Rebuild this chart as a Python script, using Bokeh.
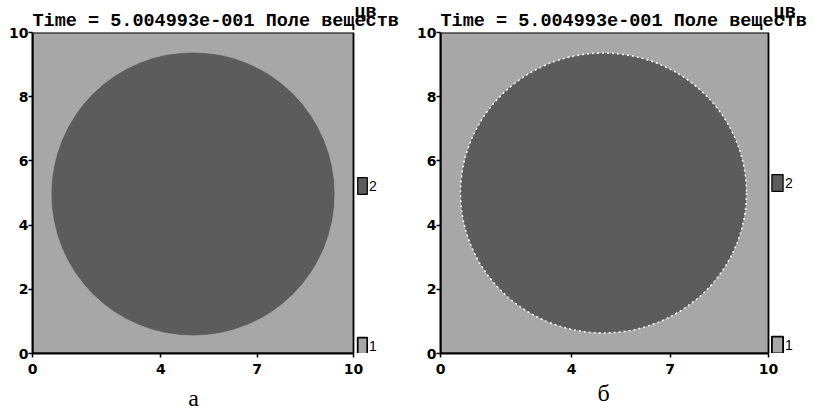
from bokeh.plotting import figure
from bokeh.models import FixedTicker, Legend, LegendItem, Range1d
from bokeh.layouts import row
from bokeh.embed import file_html
from bokeh.resources import INLINE

# ---- data ----
title_text = "Time = 5.004993e-001 Поле веществ"
superscript_text = "цв"
panel_labels = ["а", "б"]
x_ticks = [0, 4, 7, 10]
y_ticks = [0, 2, 4, 6, 8, 10]
domain_x = [0, 10]
domain_y = [0, 10]
disc_cx = [5.0, 4.97]
disc_cy = [4.97, 5.0]
disc_r = [4.42, 4.36]
level_labels = ["1", "2"]
level_colors = ["#a7a7a7", "#5c5c5c"]

# ---- per-panel layout / style (pixels) ----
panels = [
    dict(width=414, height=413, bl=32, bt=32, bb=60, dom_w=321, dom_h=321,
         xlab_standoff=8, xlab_pad=10,
         edge_color="#b4b4b4", edge_dash="solid", edge_width=1.0, edge_alpha=0.5,
         leg_loc=(324, -3), glyph_w=12, glyph_h=21, spacing=139,
         sup_indent=29),
    dict(width=400, height=413, bl=26, bt=30, bb=56, dom_w=328, dom_h=327,
         xlab_standoff=3, xlab_pad=8,
         edge_color="white", edge_dash="2 3", edge_width=1.5, edge_alpha=1.0,
         leg_loc=(330, -2), glyph_w=14, glyph_h=21, spacing=141,
         sup_indent=30),
]


def make_panel(i):
    s = panels[i]
    frame_w = s["width"] - s["bl"]
    frame_h = s["height"] - s["bt"] - s["bb"]
    span_x = domain_x[1] - domain_x[0]
    span_y = domain_y[1] - domain_y[0]
    x_end = domain_x[0] + span_x * frame_w / s["dom_w"]
    y_end = domain_y[0] + span_y * frame_h / s["dom_h"]
    p = figure(width=s["width"], height=s["height"], output_backend="svg",
               toolbar_location=None,
               x_range=Range1d(domain_x[0], x_end),
               y_range=Range1d(domain_y[0], y_end),
               min_border_left=s["bl"], min_border_right=0,
               min_border_top=s["bt"], min_border_bottom=s["bb"])
    p.title.text = "\u00a0" * s["sup_indent"] + superscript_text + "\n" + title_text
    p.title.text_font = "Liberation Mono"
    p.title.text_font_style = "bold"
    p.title.text_font_size = "18.5px"
    p.title.text_line_height = 0.45
    p.title.text_color = "black"
    p.title.align = "left"
    p.title.standoff = 0
    p.title.offset = 0

    p.grid.visible = False
    p.outline_line_color = None
    p.background_fill_color = "white"
    p.border_fill_color = "white"

    for ax, ticks, bnd in ((p.xaxis, x_ticks, domain_x), (p.yaxis, y_ticks, domain_y)):
        ax.ticker = FixedTicker(ticks=ticks)
        ax.bounds = (bnd[0], bnd[1])
        ax.minor_tick_line_color = None
        ax.major_tick_in = 0
        ax.major_tick_out = 4
        ax.major_tick_line_color = "black"
        ax.major_tick_line_width = 1.5
        ax.axis_line_color = "black"
        ax.axis_line_width = 2
        ax.major_label_text_font = "DejaVu Sans"
        ax.major_label_text_font_style = "bold"
        ax.major_label_text_font_size = "14px"
        ax.major_label_text_color = "black"
    p.yaxis.major_label_standoff = 0
    p.xaxis.major_label_standoff = 6
    # trailing no-break spaces keep the label centred under the domain box
    p.xaxis.axis_label = panel_labels[i] + "\u00a0" * s["xlab_pad"]
    p.xaxis.axis_label_text_font = "Liberation Serif"
    p.xaxis.axis_label_text_font_style = "normal"
    p.xaxis.axis_label_text_font_size = "24px"
    p.xaxis.axis_label_text_color = "black"
    p.xaxis.axis_label_standoff = s["xlab_standoff"]

    # level 1: the surrounding medium fills the domain (its edge is the box)
    bg = p.quad(left=[domain_x[0]], right=[domain_x[1]],
                bottom=[domain_y[0]], top=[domain_y[1]],
                fill_color=level_colors[0], line_color="black", line_width=1.8)
    # level 2 swatch proxy (inscribed square of the disc, hidden beneath it)
    cx, cy, r = disc_cx[i], disc_cy[i], disc_r[i]
    proxy = p.quad(left=[cx - 0.6 * r], right=[cx + 0.6 * r],
                   bottom=[cy - 0.6 * r], top=[cy + 0.6 * r],
                   fill_color=level_colors[1], line_color="black", line_width=1.2)
    p.ellipse(x=[cx], y=[cy], width=[2 * r], height=[2 * r],
              fill_color=level_colors[1], line_color=s["edge_color"],
              line_dash=s["edge_dash"], line_width=s["edge_width"],
              line_alpha=s["edge_alpha"])

    legend = Legend(items=[LegendItem(label=level_labels[1], renderers=[proxy]),
                           LegendItem(label=level_labels[0], renderers=[bg])],
                    location=s["leg_loc"], padding=0, margin=0,
                    border_line_color=None, background_fill_alpha=0,
                    glyph_width=s["glyph_w"], glyph_height=s["glyph_h"],
                    label_height=s["glyph_h"], spacing=s["spacing"],
                    label_standoff=1, label_text_font="Liberation Sans",
                    label_text_font_size="14px", label_text_color="black",
                    label_text_baseline="middle")
    p.add_layout(legend, "center")
    return p


layout = row(make_panel(0), make_panel(1), spacing=0)
open("out.html", "w").write(file_html(layout, INLINE))
